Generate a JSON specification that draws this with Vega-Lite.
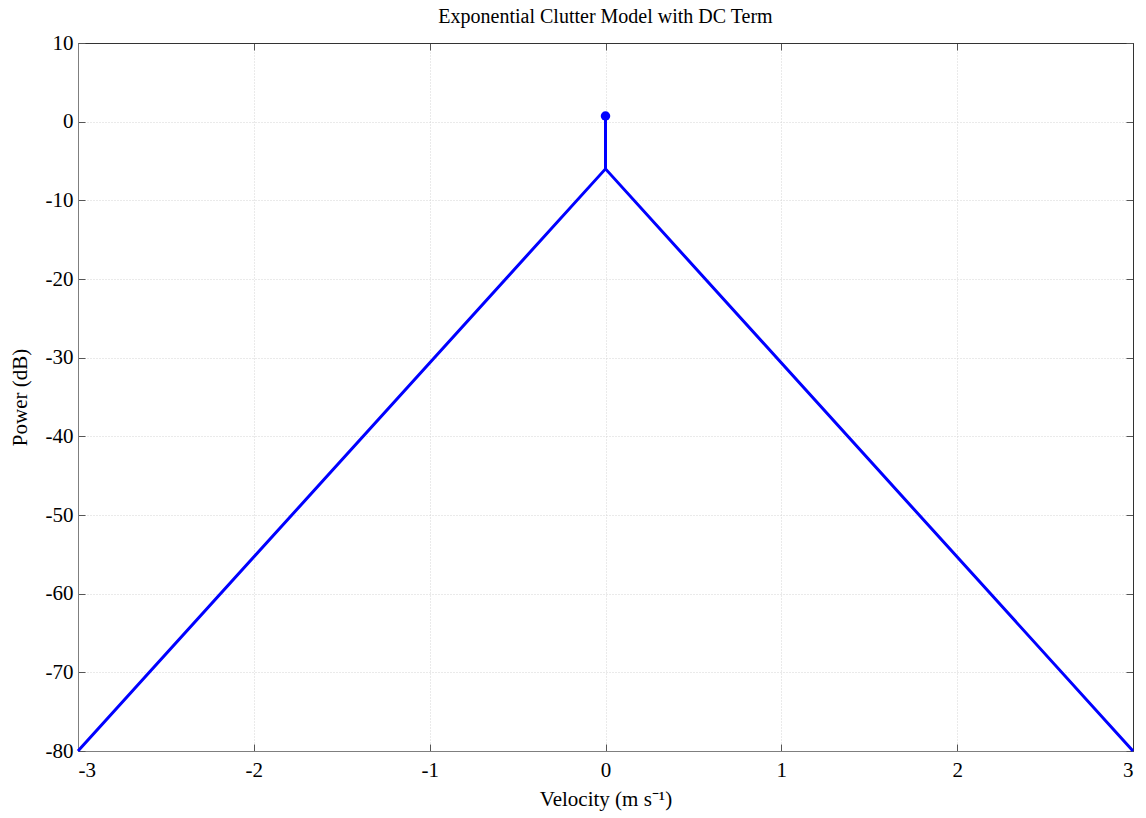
{
  "$schema": "https://vega.github.io/schema/vega-lite/v6.json",
  "width": 1055,
  "height": 708,
  "autosize": "none",
  "padding": {"left": 78, "top": 43, "right": 13, "bottom": 67},
  "background": "white",
  "config": {
    "view": {"stroke": "#333333", "strokeWidth": 1},
    "font": "Liberation Serif",
    "axis": {
      "labelFont": "Liberation Serif",
      "titleFont": "Liberation Serif",
      "labelFontSize": 21,
      "titleFontSize": 21,
      "titleFontWeight": "normal",
      "labelColor": "#000000",
      "titleColor": "#000000",
      "domainColor": "#7f7f7f",
      "tickColor": "#555555",
      "tickSize": -7,
      "gridColor": "#d5d5d5",
      "gridDash": [1, 2],
      "gridWidth": 1,
      "labelExpr": "'' + datum.value"
    }
  },
  "title": {
    "text": "Exponential Clutter Model with DC Term",
    "font": "Liberation Serif",
    "fontSize": 20,
    "fontWeight": "normal",
    "color": "#000000",
    "offset": 5
  },
  "data": {
    "values": [
      {"v": -3, "p": -80, "s": "clutter"},
      {"v": 0, "p": -6, "s": "clutter"},
      {"v": 3, "p": -80, "s": "clutter"},
      {"v": 0, "p": -6, "s": "dc"},
      {"v": 0, "p": 0.72, "s": "dc"}
    ]
  },
  "layer": [
    {
      "mark": {"type": "line", "color": "#0000ff", "strokeWidth": 3},
      "encoding": {
        "x": {
          "field": "v", "type": "quantitative",
          "scale": {"domain": [-3, 3], "nice": false, "zero": false},
          "axis": {"orient": "bottom", "values": [-3, -2, -1, 0, 1, 2, 3], "title": "Velocity (m s⁻¹)", "labelPadding": 15, "titlePadding": 8, "grid": true}
        },
        "y": {
          "field": "p", "type": "quantitative",
          "scale": {"domain": [-80, 10], "nice": false, "zero": false},
          "axis": {"orient": "left", "values": [-80, -70, -60, -50, -40, -30, -20, -10, 0, 10], "title": "Power (dB)", "labelPadding": 12, "titlePadding": 15, "grid": true}
        },
        "detail": {"field": "s"}
      }
    },
    {
      "transform": [{"filter": "datum.s == 'dc' && datum.p > 0"}],
      "mark": {"type": "point", "filled": true, "color": "#0000ff", "size": 90, "opacity": 1},
      "encoding": {
        "x": {
          "field": "v", "type": "quantitative",
          "axis": {"orient": "top", "values": [-3, -2, -1, 0, 1, 2, 3], "labels": false, "title": null, "grid": false, "domain": true, "domainColor": "#333333"}
        },
        "y": {
          "field": "p", "type": "quantitative",
          "axis": {"orient": "right", "values": [-80, -70, -60, -50, -40, -30, -20, -10, 0, 10], "labels": false, "title": null, "grid": false, "domain": true, "domainColor": "#333333"}
        }
      }
    }
  ],
  "resolve": {"axis": {"x": "independent", "y": "independent"}}
}
